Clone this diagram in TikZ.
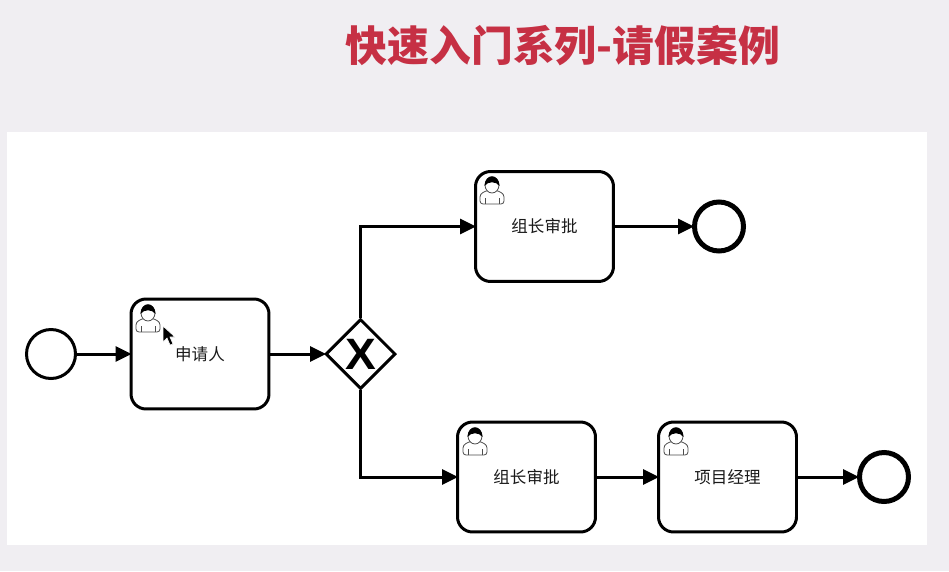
\documentclass[tikz,border=0pt]{standalone}
\usepackage{fontspec}
\newfontfamily\cjk{Noto Sans CJK SC}
\newfontfamily\gatefont{Liberation Sans}
\usetikzlibrary{arrows.meta,shapes.geometric}
\definecolor{pagebg}{HTML}{F0EEF2}
\definecolor{titlered}{HTML}{C63044}
\begin{document}
\begin{tikzpicture}[x=0.02cm, y=-0.02cm, every node/.style={font=\cjk},
  task/.style={draw, line width=0.06cm, fill=white, minimum width=2.76cm, minimum height=2.2cm, rounded corners=0.3cm, inner sep=0pt, font=\cjk\fontsize{9.4}{11}\selectfont, text=black!90},
  startev/.style={draw, line width=0.06cm, circle, fill=white, minimum size=0.98cm, inner sep=0pt},
  endev/.style={draw, line width=0.1cm, circle, fill=white, minimum size=0.98cm, inner sep=0pt},
  gate/.style={draw, line width=0.06cm, diamond, aspect=1, fill=white, minimum size=1.4cm, inner sep=0pt},
  flow/.style={-{Triangle[length=0.32cm, width=0.3cm]}, line width=0.06cm, shorten >=-0.04cm},
  usericon/.pic={
    \draw[black!70, line width=0.016cm, fill=white, rounded corners=0.06cm] (-12,12) -- (-12,2) -- (-4,-2) -- (4,-2) -- (12,2) -- (12,12) -- cycle;
    \draw[black!70, line width=0.016cm] (-7,12) -- (-7,6) (7,12) -- (7,6);
    \draw[black!70, line width=0.016cm, fill=white] (0,-7) circle[x radius=7, y radius=8];
    \fill[black] (-7.5,-6) .. controls (-7,-19) and (7,-19) .. (7.5,-6) .. controls (4,-11) and (-4,-11) .. (-7.5,-6) -- cycle;
  }]
\useasboundingbox (0,0) rectangle (949,571);
\fill[pagebg] (0,0) rectangle (949,571);
\fill[white] (7,132) rectangle (927,545);
\node[font=\cjk\bfseries\fontsize{23.8}{28}\selectfont, text=titlered, inner sep=0pt] (title) at (563,46) {快速入门系列-请假案例};
% process nodes
\node[startev] (start) at (51,354) {};
\node[task] (apply) at (200,354) {申请人};
\node[gate] (gw) at (360.5,354) {};
\node[font=\gatefont\bfseries\fontsize{25}{25}\selectfont, inner sep=0pt, xscale=1.05] (gwx) at (360.5,354) {X};
\node[task] (leader1) at (544.5,226.5) {组长审批};
\node[endev] (end1) at (719,226.5) {};
\node[task] (leader2) at (526.5,477) {组长审批};
\node[task] (manager) at (727.5,477) {项目经理};
\node[endev] (end2) at (884,477) {};
% sequence flows
\draw[flow] (start) -- (apply);
\draw[flow] (apply) -- (gw);
\draw[flow] (gw.north) |- (leader1.west);
\draw[flow] (gw.south) |- (leader2.west);
\draw[flow] (leader1) -- (end1);
\draw[flow] (leader2) -- (manager);
\draw[flow] (manager) -- (end2);
% user icons
\pic at (148,320) {usericon};
\pic at (492,192) {usericon};
\pic at (475,443) {usericon};
\pic at (676,443) {usericon};
% mouse pointer
\fill[black, draw=white, line width=0.012cm] (163,326) -- (163,342) -- (167,338) -- (170,345) -- (173,344) -- (170,337) -- (175,337) -- cycle;
\end{tikzpicture}
\end{document}
